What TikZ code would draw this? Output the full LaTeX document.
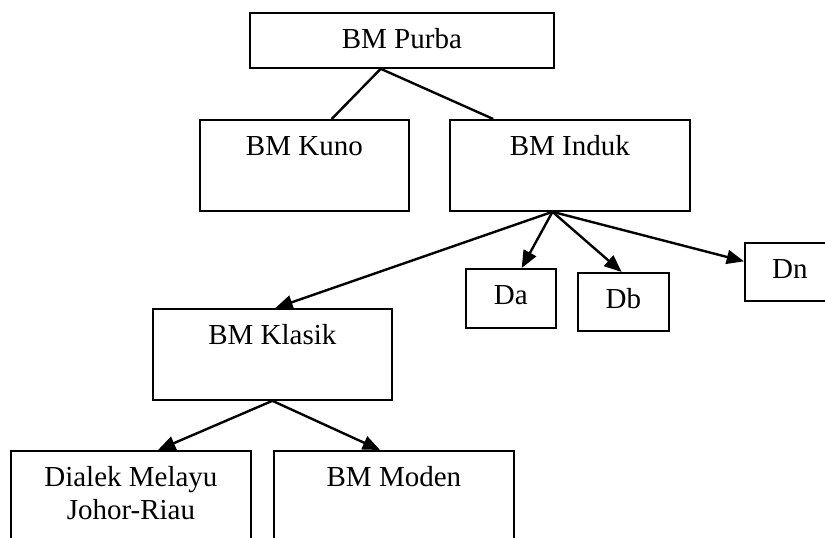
\documentclass[tikz,border=0pt]{standalone}
\usepackage{fontspec}
\setmainfont{Liberation Serif}
\usetikzlibrary{arrows.meta}
\newcommand{\boxtext}[3]{\parbox[t][#2][t]{#1}{\centering\rule{0pt}{27pt}#3}}
\tikzset{
  box/.style={draw, line width=1.35pt, inner sep=0pt, anchor=north west,
    font=\fontsize{21.75pt}{24.2pt}\selectfont},
  link/.style={line width=1.8pt},
  conn/.style={line width=1.8pt, -{Triangle[length=13pt,width=10.5pt]}}
}
\begin{document}
\begin{tikzpicture}[x=0.75pt,y=-0.75pt]
\useasboundingbox (0,0) rectangle (825,537);
\clip (0,0) rectangle (825,537);
\node[box] (purba)  at (249,12)  {\boxtext{228pt}{41.25pt}{BM Purba}};
\node[box] (kuno)   at (199,119) {\boxtext{156.75pt}{68.25pt}{BM Kuno}};
\node[box] (induk)  at (449,119) {\boxtext{180pt}{68.25pt}{BM Induk}};
\node[box] (da)     at (465,268) {\boxtext{67.5pt}{44.25pt}{Da}};
\node[box] (db)     at (577,272) {\boxtext{68.25pt}{43.5pt}{Db}};
\node[box] (dn)     at (744,242) {\boxtext{67.5pt}{43.5pt}{Dn}};
\node[box] (klasik) at (152,308) {\boxtext{179.25pt}{68.25pt}{BM Klasik}};
\node[box] (dialek) at (10,450)  {\boxtext{180pt}{68.25pt}{Dialek Melayu\\Johor-Riau}};
\node[box] (moden)  at (273,450) {\boxtext{180pt}{68.25pt}{BM Moden}};
\draw[link] ([xshift=98.8pt]purba.south west) -- ([xshift=99.5pt]kuno.north west);
\draw[link] ([xshift=98.8pt]purba.south west) -- ([xshift=33.2pt]induk.north west);
\draw[conn] ([xshift=77.6pt]induk.south west) -- ([xshift=42.5pt]da.north west);
\draw[conn] ([xshift=77.6pt]induk.south west) -- ([xshift=33.5pt]db.north west);
\draw[conn] ([xshift=77.6pt]induk.south west) -- ([yshift=-14.5pt]dn.north west);
\draw[conn] ([xshift=77.6pt]induk.south west) -- ([xshift=92.5pt]klasik.north west);
\draw[conn] (klasik.south) -- ([xshift=111pt]dialek.north west);
\draw[conn] (klasik.south) -- ([xshift=80.25pt]moden.north west);
\end{tikzpicture}
\end{document}
